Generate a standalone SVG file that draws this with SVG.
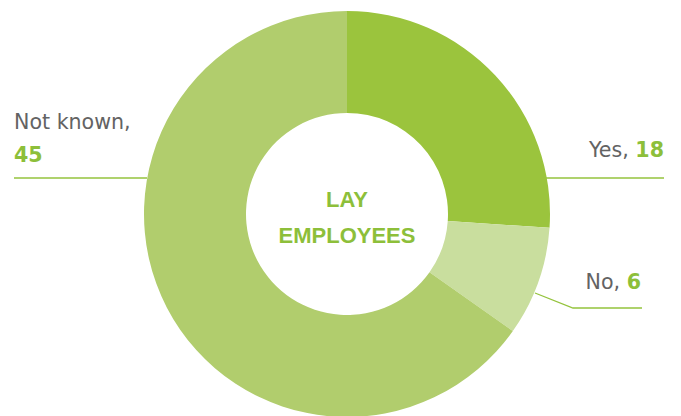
<svg xmlns="http://www.w3.org/2000/svg" width="681" height="416" viewBox="0 0 681 416">
<style>
.lbl{font-family:"DejaVu Sans",sans-serif;font-size:20.6px;fill:#636363}
.num{font-weight:bold;fill:#8dbf3a}
.ctr{font-family:"Liberation Sans",Arial,sans-serif;font-size:22px;font-weight:bold;fill:#8dbf3a;text-anchor:middle}
.lead{stroke:#94c33c;stroke-width:1.3;fill:none}
</style>
<rect width="681" height="416" fill="#ffffff"/>
<g id="slice-yes"><path d="M347,11 A203,203 0 0 1 549.53,227.85 L447.76,220.89 A101,101 0 0 0 347,113 Z" fill="#9bc43d"/></g>
<g id="slice-no"><path d="M549.53,227.85 A203,203 0 0 1 512.84,331.07 L429.51,272.25 A101,101 0 0 0 447.76,220.89 Z" fill="#c9de9e"/></g>
<g id="slice-notknown"><path d="M512.84,331.07 A203,203 0 1 1 347,11 L347,113 A101,101 0 1 0 429.51,272.25 Z" fill="#b1cd6d"/></g>
<g id="center-label"><text class="ctr" x="347" y="207">LAY</text><text class="ctr" x="347" y="243">EMPLOYEES</text></g>
<g id="connectors">
<polyline class="lead" points="14,178 147,178"/>
<polyline class="lead" points="546,178 664,178"/>
<polyline class="lead" points="535,293 573,308 642,308"/>
</g>
<g id="label-notknown"><text class="lbl" x="14" y="129">Not known,</text><text class="lbl num" x="14" y="162">45</text></g>
<g id="label-yes"><text class="lbl" x="664" y="157" text-anchor="end">Yes, <tspan class="num">18</tspan></text></g>
<g id="label-no"><text class="lbl" x="641" y="289" text-anchor="end">No, <tspan class="num">6</tspan></text></g>
</svg>
